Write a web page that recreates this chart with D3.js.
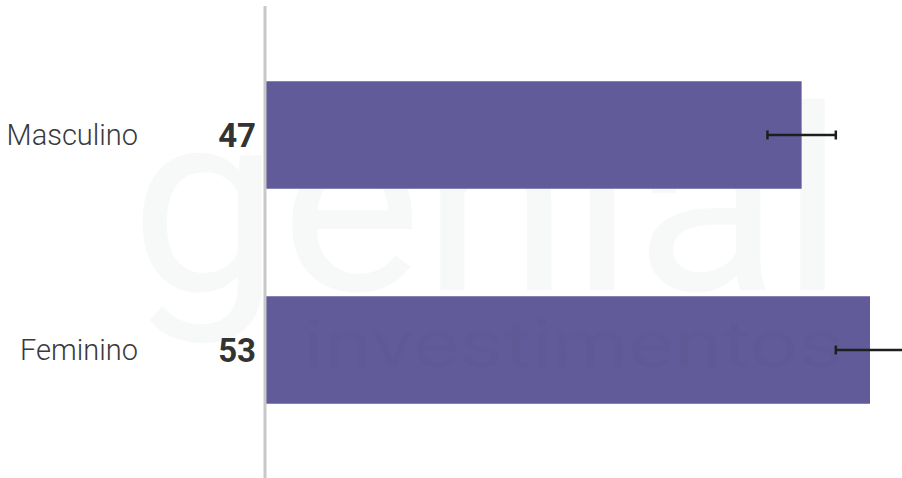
<!DOCTYPE html>
<html>
<head>
<meta charset="utf-8">
<script src="https://cdn.jsdelivr.net/npm/d3@7"></script>
<style>
  html, body { margin: 0; padding: 0; background: #fff; }
  svg { display: block; }
</style>
</head>
<body>
<svg id="chart" width="902" height="478"></svg>
<script>
const categories = ["Masculino", "Feminino"];
const values = [47, 53];
const errLow = [44, 50];
const errHigh = [50, 56];

const W = 902, H = 478;
const svg = d3.select("#chart");

const x = d3.scaleLinear().domain([0, 53]).range([266, 870]);
const y = d3.scaleBand().domain(categories).range([27.5, 457.5])
  .paddingInner(0.5).paddingOuter(0.25);

// watermark (behind)
svg.append("text")
  .attr("x", 130).attr("y", 290)
  .attr("textLength", 715).attr("lengthAdjust", "spacingAndGlyphs")
  .style("font-family", "Roboto, sans-serif").style("font-weight", 400)
  .style("font-size", "255px").attr("fill", "#f7f8f8")
  .text("genial");

// bars
svg.append("g").selectAll("rect").data(categories).join("rect")
  .attr("x", x(0)).attr("y", d => y(d))
  .attr("width", (d, i) => x(values[i]) - x(0))
  .attr("height", y.bandwidth())
  .attr("fill", "#615c99");

// watermark overlay text
svg.append("text")
  .attr("x", 303).attr("y", 367)
  .attr("textLength", 540).attr("lengthAdjust", "spacingAndGlyphs")
  .style("font-family", "Roboto, sans-serif").style("font-weight", 400)
  .style("font-size", "66px").attr("fill", "#000").attr("fill-opacity", 0.02)
  .text("investimentos");

// axis line
svg.append("line")
  .attr("x1", 265).attr("x2", 265).attr("y1", 6).attr("y2", H)
  .attr("stroke", "#c8c8c8").attr("stroke-width", 3);

// error bars
const eg = svg.append("g").attr("stroke", "#1e1e1e");
categories.forEach((c, i) => {
  const cy = y(c) + y.bandwidth() / 2;
  eg.append("line").attr("x1", x(errLow[i])).attr("x2", x(errHigh[i]))
    .attr("y1", cy).attr("y2", cy).attr("stroke-width", 2.5);
  [errLow[i], errHigh[i]].forEach(v => {
    eg.append("line").attr("x1", x(v)).attr("x2", x(v))
      .attr("y1", cy - 4.5).attr("y2", cy + 4.5).attr("stroke-width", 2.5);
  });
});

// category labels
svg.append("g").selectAll("text").data(categories).join("text")
  .attr("x", 138).attr("y", d => y(d) + y.bandwidth() / 2 + 10)
  .attr("text-anchor", "end")
  .style("font-family", "Roboto, sans-serif").style("font-weight", 300)
  .style("font-size", "29px").attr("fill", "#3a3a3a")
  .text(d => d);

// value labels
svg.append("g").selectAll("text").data(categories).join("text")
  .attr("x", 256).attr("y", (d) => y(d) + y.bandwidth() / 2 + 12)
  .attr("text-anchor", "end")
  .style("font-family", "Roboto, sans-serif").style("font-weight", 700)
  .style("font-size", "33px").attr("fill", "#333")
  .text((d, i) => values[i]);
</script>
</body>
</html>
